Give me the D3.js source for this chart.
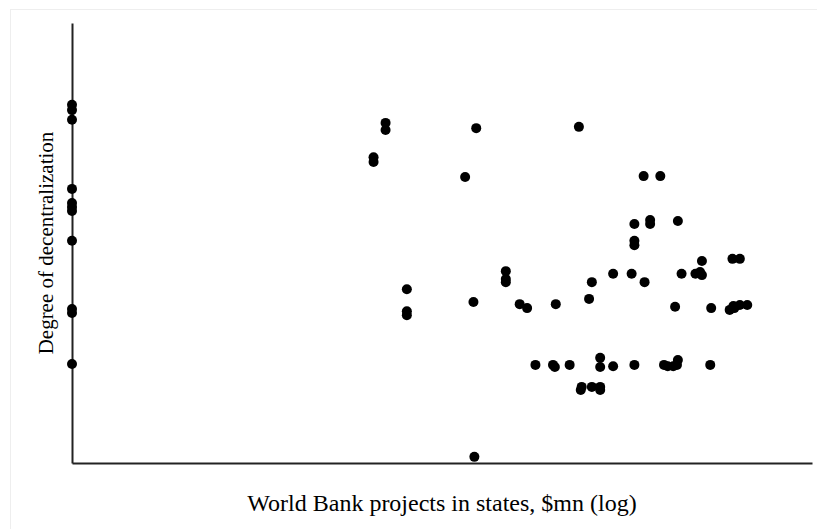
<!DOCTYPE html>
<html><head><meta charset="utf-8">
<script src="https://cdn.jsdelivr.net/npm/d3@7"></script>
<style>body{margin:0;background:#fff}svg{display:block}</style>
</head><body>
<script>
// World Bank projects in states, $mn (log) — 0 = no projects
const xValues = [
  0,0,0,0,0,0,0,0,0,0,0,
  3.39,3.39,3.26,3.26,4.37,4.25,3.62,3.62,3.62,4.34,4.69,4.69,4.69,4.84,4.92,5.23,4.35,
  5.01,5.20,5.22,5.38,5.48,5.50,5.51,5.62,5.71,5.71,5.71,5.71,5.85,6.08,5.59,5.62,5.85,6.05,6.19,
  6.08,6.08,6.08,6.25,6.25,6.18,6.36,6.55,6.52,6.59,6.74,6.79,6.81,6.81,
  6.40,6.44,6.50,6.55,6.54,6.90,6.91,7.14,7.22,7.11,7.16,7.15,7.22,7.30
];
// Degree of decentralization
const yValues = [
  8.14,8.02,7.80,6.23,5.91,5.82,5.73,5.05,3.50,3.41,2.25,
  7.73,7.57,6.95,6.84,7.61,6.50,3.95,3.45,3.36,3.66,4.36,4.18,4.11,3.61,3.52,3.61,0.14,
  2.23,2.23,2.18,2.23,7.64,1.66,1.73,1.73,1.66,1.73,2.39,2.18,2.20,2.23,3.73,4.11,4.30,4.30,4.11,
  5.43,5.05,4.95,5.52,5.43,6.52,6.52,5.50,3.55,4.30,4.30,4.34,4.59,4.27,
  2.23,2.20,2.20,2.34,2.23,2.23,3.52,4.64,4.64,3.48,3.52,3.57,3.59,3.59
];
const xDomain = [0, 8];
const yDomain = [0, 10];
const xTitle = "World Bank projects in states, $mn (log)";
const yTitle = "Degree of decentralization";

const W = 817, H = 529;
const svg = d3.select("body").append("svg").attr("width", W).attr("height", H);
svg.append("rect").attr("x", 10.5).attr("y", 9.5).attr("width", W - 10).attr("height", H - 9)
  .attr("fill", "#fff").attr("stroke", "#eeeeee");

const mLeft = 72, mRight = 812, mTop = 23, mBottom = 463;
const x = d3.scaleLinear().domain(xDomain).range([mLeft, mRight]);
const y = d3.scaleLinear().domain(yDomain).range([mBottom, mTop]);

svg.append("g").attr("transform", `translate(0,${mBottom})`)
  .call(d3.axisBottom(x).tickValues([]).tickSizeOuter(0));
svg.append("g").attr("transform", `translate(${mLeft},0)`)
  .call(d3.axisLeft(y).tickValues([]).tickSizeOuter(0));
svg.selectAll(".domain").attr("stroke", "#222").attr("stroke-width", 2);

const data = xValues.map((v, i) => ({x: v, y: yValues[i]}));
svg.append("g").selectAll("circle").data(data).enter().append("circle")
  .attr("cx", d => x(d.x)).attr("cy", d => y(d.y)).attr("r", 5).attr("fill", "#000");

svg.append("text").attr("x", (mLeft + mRight) / 2).attr("y", 511)
  .attr("text-anchor", "middle").attr("font-family", "Liberation Serif, Times New Roman, serif")
  .attr("font-size", 24).attr("fill", "#000").text(xTitle);
svg.append("text").attr("transform", `translate(53,${(mTop + mBottom) / 2}) rotate(-90)`)
  .attr("text-anchor", "middle").attr("font-family", "Liberation Serif, Times New Roman, serif")
  .attr("font-size", 21).attr("fill", "#000").text(yTitle);
</script>
</body></html>
